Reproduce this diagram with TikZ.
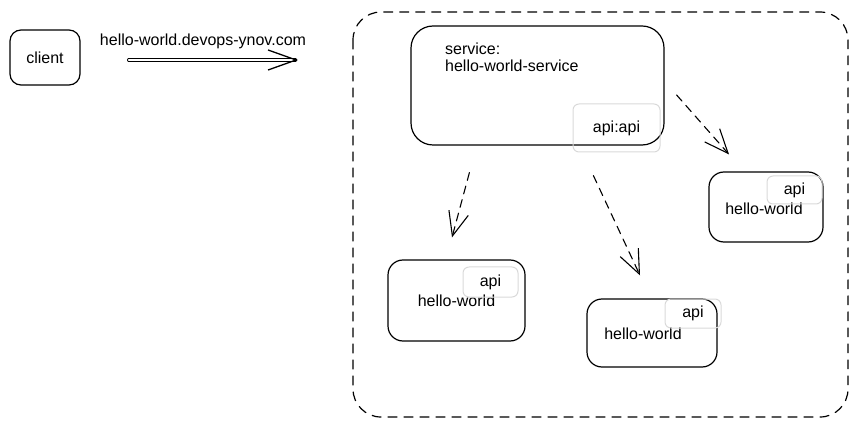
\documentclass[tikz,border=0pt]{standalone}
\usepackage{fontspec}
\setmainfont{Liberation Sans}
\usetikzlibrary{arrows.meta}
\tikzset{
  box/.style={draw, line width=1.2pt, inner sep=0pt},
  apibox/.style={draw=black!15, line width=1pt, rounded corners=6pt, inner sep=0pt},
  call/.style={line width=1.1pt, dash pattern=on 8pt off 6pt, -{Straight Barb[length=24pt,width=20pt]}},
  ingress/.style={double, double distance=1.2pt, line width=1pt, -{Straight Barb[length=28pt,width=20pt,line width=1.3pt]}}
}
\begin{document}
\begin{tikzpicture}[x=1pt, y=-1pt, font=\fontsize{16}{17}\selectfont, line join=round, line cap=round]
\useasboundingbox (0,0) rectangle (858,427);
% namespace
\draw[line width=1.2pt, dash pattern=on 9pt off 7pt, rounded corners=28pt] (353,12) rectangle (848,417);
% client side
\node[box, rounded corners=11pt, minimum width=70pt, minimum height=55pt] (client) at (45,57.5) {client};
\coordinate (entry) at (298,60);
\node[anchor=base] (host) at (203,46) {hello-world.devops-ynov.com};
\draw[ingress] ([shift={(48,2.5)}]client.east) -- (entry);
% service
\node[box, rounded corners=22pt, minimum width=253pt, minimum height=119pt] (svc) at (537.5,85.5) {};
\node[anchor=north west, align=left, inner sep=0pt] (svcname) at (445,43) {service:\\hello-world-service};
\node[apibox, minimum width=87pt, minimum height=48pt] (svcport) at (616.5,128) {api:api};
% pods
\node[box, rounded corners=15pt, minimum width=137pt, minimum height=81pt] (hw1) at (456.5,300.5) {hello-world};
\node[apibox, minimum width=55pt, minimum height=30pt] (port1) at (490.5,282) {api};
\node[box, rounded corners=15pt, minimum width=130pt, minimum height=68pt] (hw2) at (652,333) {};
\node (name2) at (643,334) {hello-world};
\node[apibox, minimum width=56pt, minimum height=29pt] (port2) at (693,313.5) {api};
\node[box, rounded corners=15pt, minimum width=114pt, minimum height=70pt] (hw3) at (766,207) {};
\node (name3) at (764,209) {hello-world};
\node[apibox, minimum width=55pt, minimum height=28pt] (port3) at (794.5,190) {api};
% load balancing
\coordinate (out1) at ([shift={(59,27)}]svc.south west);
\coordinate (in1) at ([shift={(-4.5,-22)}]hw1.north);
\coordinate (out2) at ([shift={(183,30)}]svc.south west);
\coordinate (in2) at ([shift={(-12,-23)}]hw2.north);
\coordinate (out3) at ([shift={(12,9.5)}]svc.east);
\coordinate (in3) at ([shift={(-37,-17)}]hw3.north);
\draw[call] (out1) -- (in1);
\draw[call] (out2) -- (in2);
\draw[call] (out3) -- (in3);
\end{tikzpicture}
\end{document}
